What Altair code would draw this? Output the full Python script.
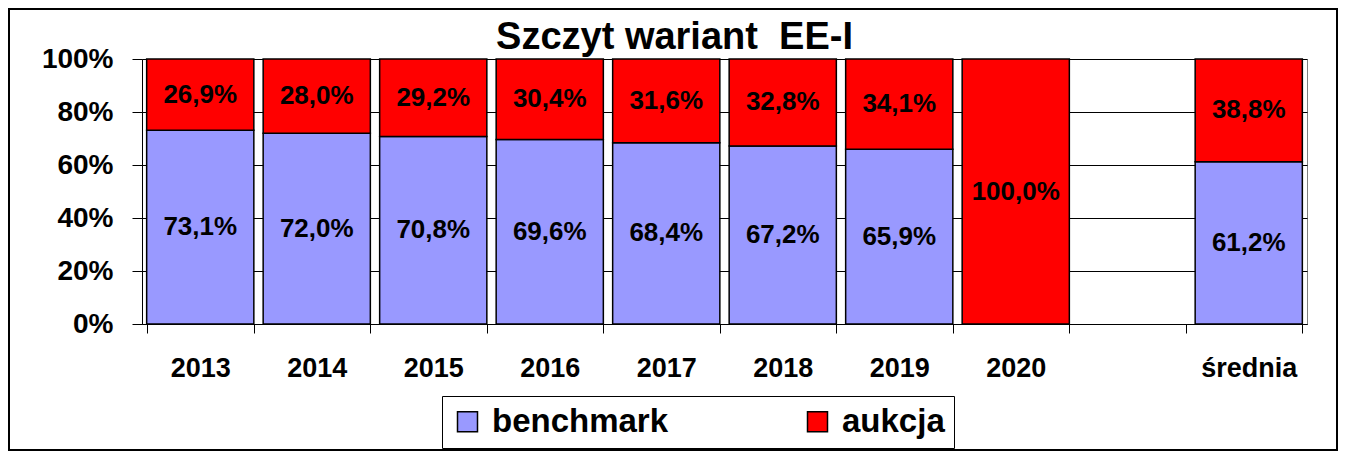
import altair as alt
import pandas as pd

categories = ["2013", "2014", "2015", "2016", "2017", "2018", "2019", "2020", " ", "średnia"]
data_categories = ["2013", "2014", "2015", "2016", "2017", "2018", "2019", "2020", "średnia"]
benchmark = [73.1, 72.0, 70.8, 69.6, 68.4, 67.2, 65.9, 0.0, 61.2]
aukcja = [26.9, 28.0, 29.2, 30.4, 31.6, 32.8, 34.1, 100.0, 38.8]
series_names = ["benchmark", "aukcja"]
series_colors = ["#9999FF", "#FF0000"]
y_ticks = [0, 20, 40, 60, 80, 100]

rows = []
for c, b, a in zip(data_categories, benchmark, aukcja):
    rows.append({"cat": c, "series": "benchmark", "value": b, "order": 0,
                 "mid": b / 2, "label": (f"{b:.1f}%".replace(".", ",") if b > 0 else "")})
    rows.append({"cat": c, "series": "aukcja", "value": a, "order": 1,
                 "mid": b + a / 2, "label": (f"{a:.1f}%".replace(".", ",") if a > 0 else "")})
df = pd.DataFrame(rows)

FONT = "Liberation Sans"
W, H = 1165, 265

xscale = alt.Scale(domain=categories, paddingInner=0.08, paddingOuter=0.04)
xaxis = alt.Axis(title=None, labelAngle=0, tickBand="extent", tickSize=9, tickColor="black",
                 domainColor="black", labelFontSize=27, labelFont=FONT, labelFontWeight="bold",
                 labelColor="black", labelPadding=22, grid=False)
yaxis = alt.Axis(title=None, values=y_ticks, labelExpr="datum.value + '%'", tickSize=10,
                 tickColor="black", domainColor="black", labelFontSize=28, labelFont=FONT,
                 labelFontWeight="bold", labelColor="black", labelPadding=19,
                 grid=True, gridColor="black", gridWidth=1, gridOpacity=1)

bars = alt.Chart(df).mark_bar(stroke="black", strokeWidth=1.5).encode(
    x=alt.X("cat:N", scale=xscale, axis=xaxis, sort=categories),
    y=alt.Y("value:Q", stack="zero", scale=alt.Scale(domain=[0, 100], nice=False), axis=yaxis),
    color=alt.Color("series:N", scale=alt.Scale(domain=series_names, range=series_colors),
                    legend=alt.Legend(title=None)),
    order=alt.Order("order:Q"),
)

labels = alt.Chart(df).transform_filter("datum.label != ''").mark_text(
    font=FONT, fontSize=26, fontWeight="bold", color="black", align="center", baseline="middle"
).encode(
    x=alt.X("cat:N", scale=xscale, sort=categories),
    y=alt.Y("mid:Q"),
    text="label:N",
)

frame = alt.Chart(alt.Data(values=[{}])).mark_rect(
    fillOpacity=0, stroke="black", strokeWidth=2
).encode(
    x=alt.value(-133), x2=alt.value(W + 30), y=alt.value(-50), y2=alt.value(H + 126)
)

chart = alt.layer(frame, bars, labels).properties(
    width=W, height=H,
    title=alt.Title("Szczyt wariant\u00a0 EE-I", fontSize=38, font=FONT, fontWeight="bold",
                    color="black", anchor="middle", dx=-50, offset=-49),
    autosize=alt.AutoSizeParams(type="none"),
    padding={"left": 134, "top": 51, "right": 31, "bottom": 128},
).configure_view(
    stroke="#808080", strokeWidth=1
).configure_legend(
    orient="none", legendX=300, legendY=337, direction="horizontal",
    strokeColor="black", fillColor="white", padding=9,
    symbolType="square", symbolSize=400, symbolStrokeColor="black", symbolStrokeWidth=1.5,
    labelFontSize=33, labelFont=FONT, labelFontWeight="bold", labelColor="black",
    labelOffset=8, columnPadding=132, symbolOpacity=1, labelLimit=400,
)

chart.save("out.html", embed_options={"renderer": "svg", "actions": False})
